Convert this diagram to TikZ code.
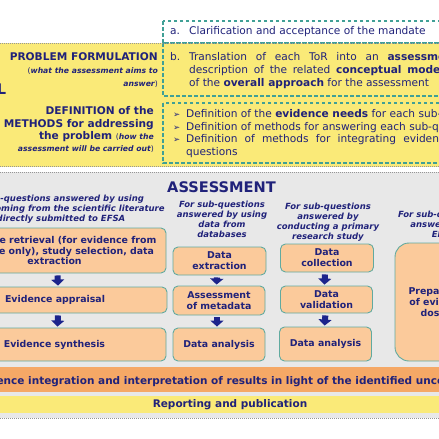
\documentclass[tikz,border=0pt]{standalone}
\usepackage{fontspec}
\setmainfont{DejaVu Sans}
\usetikzlibrary{arrows.meta}
\definecolor{navy}{RGB}{32,34,122}
\definecolor{ylw}{RGB}{250,234,120}
\definecolor{gbg}{RGB}{232,232,232}
\definecolor{peach}{RGB}{251,202,155}
\definecolor{tealb}{RGB}{96,170,160}
\definecolor{dtl}{RGB}{64,160,150}
\definecolor{orng}{RGB}{245,168,102}
\definecolor{arrc}{RGB}{28,36,140}
\definecolor{dotg}{RGB}{150,150,150}
\newcommand\szmain{\fontsize{10.6}{13}\selectfont}
\newcommand\szsm{\fontsize{7.7}{9}\selectfont}
\newcommand\szhd{\fontsize{8.5}{10.2}\selectfont\bfseries\itshape}
\newcommand\szbx{\fontsize{9.4}{10.8}\selectfont\bfseries}
\newcommand\szbig{\fontsize{14.6}{17}\selectfont\bfseries}
\newcommand\bi[1]{{\bfseries\itshape #1}}
\begin{document}
\begin{tikzpicture}[x=1pt,y=-1pt,
  tx/.style={inner sep=0pt, text=navy},
  pb/.style={draw=tealb, fill=peach, line width=0.9pt, rounded corners=5pt, text=navy, font=\szbx, align=center, inner sep=0pt},
  dbox/.style={draw=dtl, line width=1.1pt, dash pattern=on 3.5pt off 2.5pt},
  dotl/.style={draw=dotg, line width=0.8pt, dash pattern=on 1pt off 1pt},
  blk/.style={draw=arrc, line width=6pt, -{Triangle[width=13pt,length=6pt]}, shorten <=2pt, shorten >=1pt},
  hd/.style={tx, font=\szhd, align=center, anchor=north}
]
\useasboundingbox (0,0) rectangle (439,439);
\clip (0,0) rectangle (439,439);
\fill[white] (0,0) rectangle (439,439);
% bands
\fill[ylw] (-10,43) rectangle (470,167);
\fill[gbg] (-10,172) rectangle (470,418);
% dashed boxes
\draw[dbox, fill=white] (163,21) rectangle (490,43);
\draw[dbox] (163,43) rectangle (490,96);
\draw[dbox] (163,103) rectangle (490,163);
\draw[dotl] (-10,43) -- (470,43);
\draw[dotl] (-10,166.5) -- (470,166.5);
\draw[dotl] (-10,172.5) -- (470,172.5);
\draw[dotl] (-10,418) -- (470,418);
% top texts
\node[tx, anchor=base west, font=\szmain] (ta) at (170,34.5) {\makebox[19pt][l]{a.}Clarification and acceptance of the mandate};
\node[tx, anchor=base west, font=\szmain] (tb1) at (170,60.5) {\makebox[19pt][l]{b.}{\spaceskip=8.8pt\relax Translation of each ToR into an \textbf{assessment question}}};
\node[tx, anchor=base west, font=\szmain] (tb2) at (189,73.5) {{\spaceskip=5.7pt\relax description of the related \textbf{conceptual model} and}};
\node[tx, anchor=base west, font=\szmain] (tb3) at (189,86) {of the \textbf{overall approach} for the assessment};
\node[tx, anchor=base west, font=\szmain] (tc1) at (173,117) {\makebox[13pt][l]{\fontsize{8.5}{10}\selectfont ➢}Definition of the \textbf{evidence needs} for each sub-question};
\node[tx, anchor=base west, font=\szmain] (tc2) at (173,130) {\makebox[13pt][l]{\fontsize{8.5}{10}\selectfont ➢}Definition of methods for answering each sub-question};
\node[tx, anchor=base west, font=\szmain] (tc3) at (173,142.5) {\makebox[13pt][l]{\fontsize{8.5}{10}\selectfont ➢}{\spaceskip=7.2pt\relax Definition of methods for integrating evidence to answer the}};
\node[tx, anchor=base west, font=\szmain] (tc4) at (186,155) {questions};
% left headings
\node[tx, anchor=base east, font=\szbig] (prot) at (6.5,94) {PROTOCOL};
\node[tx, anchor=base east, font=\szmain\bfseries] (pf1) at (158,60) {PROBLEM FORMULATION};
\node[tx, anchor=base east] (pf2) at (158,73) {\szsm(\bi{what the assessment aims to}};
\node[tx, anchor=base east] (pf3) at (158,86) {\szsm\bi{answer})};
\node[tx, anchor=base east, font=\szmain\bfseries] (dm1) at (154,114) {DEFINITION of the};
\node[tx, anchor=base east, font=\szmain\bfseries] (dm2) at (154,127) {METHODS for addressing};
\node[tx, anchor=base east, font=\szmain\bfseries] (dm3) at (154,139) {the problem {\szsm\mdseries(\bi{how the}}};
\node[tx, anchor=base east] (dm4) at (154,151.5) {\szsm\bi{assessment will be carried out})};
% assessment
\node[tx, anchor=base west, font=\szbig] (asm) at (167,192) {ASSESSMENT};
\node[hd] (h1) at (54.5,194.5) {For sub-questions answered by using\\evidence coming from the scientific literature\\or directly submitted to EFSA};
\node[hd] (h2) at (222,200.5) {For sub-questions\\answered by using\\data from\\databases};
\node[hd] (h3) at (328,202.5) {For sub-questions\\answered by\\conducting a primary\\research study};
\node[hd] (h4) at (441,210.5) {For sub-questions\\answered by\\EKE};
% boxes
\node[pb, minimum width=223pt, minimum height=45pt] (c1a) at (54.5,250.5) {Literature retrieval (for evidence from\\literature only), study selection, data\\extraction};
\node[pb, minimum width=224pt, minimum height=26pt] (c1b) at (55,300) {Evidence appraisal};
\node[pb, minimum width=223pt, minimum height=33pt] (c1c) at (54.5,344.5) {Evidence synthesis};
\node[pb, minimum width=93pt, minimum height=28pt] (c2a) at (219.5,261) {Data\\extraction};
\node[pb, minimum width=92pt, minimum height=29pt] (c2b) at (219,300.5) {Assessment\\of metadata};
\node[pb, minimum width=92pt, minimum height=33pt] (c2c) at (219,344.5) {Data analysis};
\node[pb, minimum width=93pt, minimum height=28pt] (c3a) at (327,258) {Data\\collection};
\node[pb, minimum width=92pt, minimum height=27pt] (c3b) at (326.5,299.5) {Data\\validation};
\node[pb, minimum width=92pt, minimum height=34pt] (c3c) at (325.5,344) {Data analysis};
\node[pb, rounded corners=14pt, minimum width=90pt, minimum height=118pt] (c4) at (440,302) {Preparation\\of evidence\\dossier};
% arrows
\draw[blk] ([xshift=3pt]c1a.south) -- ([xshift=3pt]c1b.north);
\draw[blk] ([xshift=3pt]c1b.south) -- ([xshift=3pt]c1c.north);
\draw[blk] ([xshift=-2.5pt]c2a.south) -- ([xshift=-2.5pt]c2b.north);
\draw[blk] ([xshift=-2pt]c2b.south) -- ([xshift=-2pt]c2c.north);
\draw[blk] ([xshift=-2pt]c3a.south) -- ([xshift=-2pt]c3b.north);
\draw[blk] ([xshift=-1pt]c3b.south) -- ([xshift=-1pt]c3c.north);
% bottom bands
\node[tx, fill=orng, anchor=base, minimum width=500pt, text height=17pt, text depth=8pt, font=\fontsize{10.5}{12}\selectfont\bfseries] (evi) at (233,384) {Evidence integration and interpretation of results in light of the identified uncertainties};
\node[tx, fill=ylw, anchor=base, minimum width=500pt, text height=11pt, text depth=6pt, font=\fontsize{10.5}{12}\selectfont\bfseries] (rep) at (230,407) {Reporting and publication};
\end{tikzpicture}
\end{document}
